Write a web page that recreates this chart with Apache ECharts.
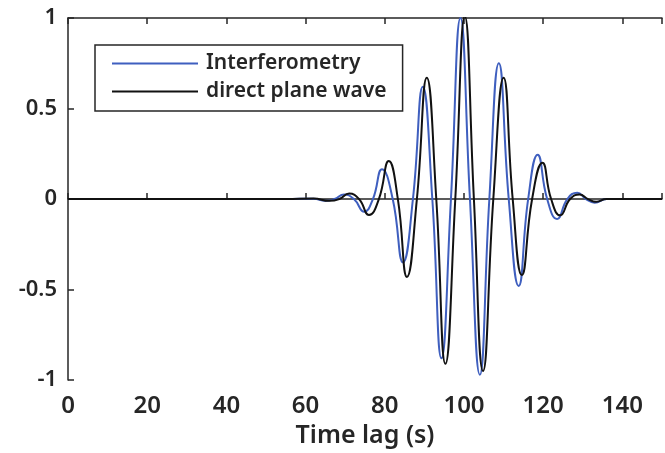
<!DOCTYPE html>
<html>
<head>
<meta charset="utf-8">
<script src="https://cdn.jsdelivr.net/npm/echarts@6/dist/echarts.min.js"></script>
<style>html,body{margin:0;padding:0;background:#fff}#c{width:665px;height:453px}</style>
</head>
<body>
<div id="c"></div>
<script>
// Time lag (s) and amplitude (extrema and zero crossings)
const interferometryT = [0, 55, 62, 65, 67.3, 69.7, 72.2, 74.8, 77, 79.3, 82, 84.6, 87.1, 89.6, 92, 94.3, 96.7, 99.1, 101.5, 104, 106.4, 108.8, 111.3, 113.8, 116.2, 118.6, 121, 123.5, 126.1, 128.6, 130.8, 133, 136, 150];
const interferometryV = [0, 0, 0.002, -0.01, 0, 0.025, 0, -0.07, 0, 0.165, 0, -0.35, 0, 0.62, 0, -0.88, 0, 1.0, 0, -0.97, 0, 0.75, 0, -0.48, 0, 0.245, 0, -0.11, 0, 0.035, 0, -0.02, 0, 0];
const directT = [0, 55, 62, 66, 68.5, 71, 73.5, 76, 78.5, 81, 83.3, 85.6, 88.1, 90.6, 93, 95.3, 97.8, 100.2, 102.5, 104.8, 107.4, 110, 112.3, 114.6, 117.2, 119.8, 122, 124.3, 126.8, 129.2, 131.3, 133.4, 136, 150];
const directV = [0, 0, 0.003, -0.01, 0, 0.03, 0, -0.088, 0, 0.21, 0, -0.43, 0, 0.67, 0, -0.91, 0, 1.01, 0, -0.95, 0, 0.67, 0, -0.42, 0, 0.20, 0, -0.09, 0, 0.025, 0, -0.015, 0, 0];
const xTicks = [0, 20, 40, 60, 80, 100, 120, 140];
const yTicks = [-1, -0.5, 0, 0.5, 1];

const pair = (t, v) => t.map((x, i) => [x, v[i]]);
const axisColor = '#262626';
const font = 'Noto Sans';

const chart = echarts.init(document.getElementById('c'));
chart.setOption({
  animation: false,
  backgroundColor: '#fff',
  grid: { left: 68, right: -9, top: 18, bottom: 70, containLabel: false },
  legend: {
    orient: 'vertical', left: 95, top: 45,
    padding: [8, 16, 9, 17], itemGap: 7,
    borderColor: axisColor, borderWidth: 1.5, backgroundColor: '#fff',
    icon: 'rect', itemWidth: 86, itemHeight: 2,
    textStyle: { fontFamily: font, fontSize: 21, fontWeight: 600, color: axisColor, padding: [0, 0, 0, 3] },
    data: ['Interferometry', 'direct plane wave']
  },
  xAxis: [{
    type: 'value', min: 0, max: 150, interval: 20,
    name: 'Time lag (s)', nameLocation: 'middle', nameGap: 38,
    nameTextStyle: { fontFamily: font, fontSize: 25, fontWeight: 600, color: axisColor },
    axisLine: { show: true, lineStyle: { color: axisColor, width: 1.5 } },
    axisTick: { inside: true, length: 6, lineStyle: { color: axisColor, width: 1.5 } },
    axisLabel: { fontFamily: font, fontSize: 24, fontWeight: 600, color: axisColor, margin: 14,
      formatter: v => xTicks.includes(v) ? String(v) : '' },
    splitLine: { show: false }
  }, {
    type: 'value', position: 'top', min: 0, max: 150, interval: 20,
    axisLine: { show: true, onZero: false, lineStyle: { color: axisColor, width: 1.5 } },
    axisTick: { inside: true, length: 6, lineStyle: { color: axisColor, width: 1.5 } },
    axisLabel: { show: false }, splitLine: { show: false }
  }],
  yAxis: {
    type: 'value', min: -1, max: 1, interval: 0.5,
    axisLine: { show: true, lineStyle: { color: axisColor, width: 1.5 } },
    axisTick: { inside: true, length: 6, lineStyle: { color: axisColor, width: 1.5 } },
    axisLabel: { fontFamily: font, fontSize: 22, fontWeight: 600, color: axisColor, margin: 11,
      formatter: v => yTicks.includes(v) ? String(v) : '' },
    splitLine: { show: false }
  },
  series: [{
    name: 'Interferometry', type: 'line', data: pair(interferometryT, interferometryV),
    smooth: 0.5, showSymbol: false, lineStyle: { color: '#3f5fbf', width: 2 }, itemStyle: { color: '#3f5fbf' }
  }, {
    name: 'direct plane wave', type: 'line', data: pair(directT, directV),
    smooth: 0.5, showSymbol: false, lineStyle: { color: '#111', width: 2 }, itemStyle: { color: '#111' }
  }]
});
</script>
</body>
</html>
